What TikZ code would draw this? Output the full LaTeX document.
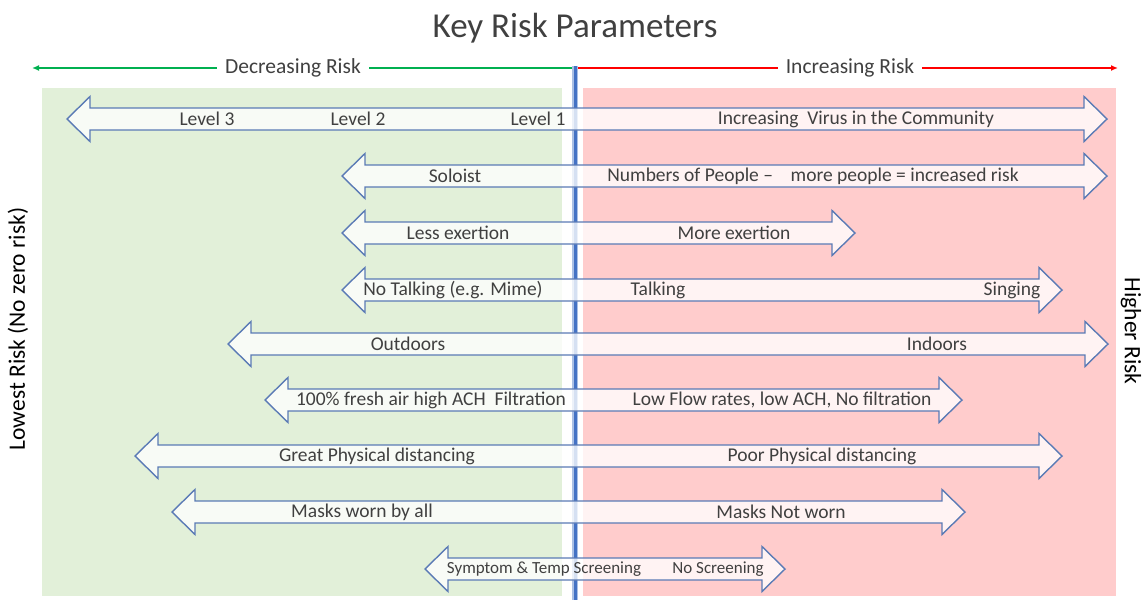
\documentclass[tikz,border=0pt]{standalone}
\usepackage{fontspec}
\setmainfont{Carlito}
\definecolor{greenbg}{HTML}{E2F0D9}
\definecolor{redbg}{HTML}{FFCCCC}
\definecolor{outl}{HTML}{5A7AB5}
\definecolor{txt}{HTML}{404040}
\definecolor{cblue}{HTML}{4472C4}
\definecolor{gline}{HTML}{00B050}
\definecolor{rline}{HTML}{FF0000}
\tikzset{
  arrowshape/.style={draw=outl, line width=1.4pt, fill=white, fill opacity=0.78, line join=miter},
  lbl/.style={text=txt, font=\fontsize{19.5}{22}\selectfont, inner sep=0pt, anchor=center},
  smlbl/.style={text=txt, font=\fontsize{17}{20}\selectfont, inner sep=0pt, anchor=center},
  toplbl/.style={text=txt, font=\fontsize{21.5}{24}\selectfont, fill=white, inner xsep=8pt, inner ysep=2pt},
  sidelbl/.style={text=black, font=\fontsize{23.5}{26}\selectfont, inner sep=0pt},
  topline/.style={line width=1.8pt, -{Latex[length=7pt,width=6pt]}},
}
\usetikzlibrary{arrows.meta}
\newcommand\riskarrow[3]{%
  \draw[arrowshape] (#1,#3) -- (#1+23,#3-22.5) -- (#1+23,#3-11) -- (#2-23,#3-11) -- (#2-23,#3-22.5) -- (#2,#3) -- (#2-23,#3+22.5) -- (#2-23,#3+11) -- (#1+23,#3+11) -- (#1+23,#3+22.5) -- cycle;}
\begin{document}
\begin{tikzpicture}[x=1pt,y=-1pt]
\useasboundingbox (0,0) rectangle (1146,600);
% backgrounds
\fill[greenbg] (42,88) rectangle (562,596);
\fill[redbg] (583,88) rectangle (1116,596);
% title
\node[text=txt, font=\fontsize{35}{40}\selectfont, inner sep=0pt] (title) at (575,28) {Key Risk Parameters};
% top direction arrows
\coordinate (c0) at (575,68);
\coordinate (lend) at (32,68);
\coordinate (rend) at (1118,68);
\draw[topline, gline] (c0) -- (lend);
\draw[topline, rline] (c0) -- (rend);
\node[toplbl] (dec) at (293,68) {Decreasing Risk};
\node[toplbl] (inc) at (850,68) {Increasing Risk};
% centre line
\coordinate (ctop) at (575,66);
\coordinate (cbot) at (575,600);
\draw[cblue!45, line width=5.5pt] (ctop) -- (cbot);
\draw[cblue, line width=3pt] (ctop) -- (cbot);
% side labels
\node[sidelbl, rotate=90] (low) at (18,329) {Lowest Risk (No zero risk)};
\node[sidelbl, rotate=-90] (high) at (1131,331) {Higher Risk};
% arrows
\riskarrow{67}{1107}{119}
\riskarrow{342}{1107}{176}
\riskarrow{342}{855}{233}
\riskarrow{342}{1062}{290}
\riskarrow{228}{1108}{344}
\riskarrow{265}{962}{400}
\riskarrow{135}{1062}{456}
\riskarrow{172}{965}{512}
\riskarrow{425}{785}{569}
% labels
\node[lbl] (l3) at (207,119) {Level 3};
\node[lbl] (l2) at (358,119) {Level 2};
\node[lbl] (l1) at (538,119) {Level 1};
\node[lbl] (vir) at (856,119) {Increasing\ \ Virus in the Community};
\node[lbl] (sol) at (455,176) {Soloist};
\node[lbl] (num) at (813,176) {Numbers of People –\ \ \ \ more people = increased risk};
\node[lbl] (lex) at (458,233) {Less exertion};
\node[lbl] (mex) at (734,233) {More exertion};
\node[lbl] (ntk) at (453,290) {No Talking (e.g. Mime)};
\node[lbl] (tk) at (658,290) {Talking};
\node[lbl] (sng) at (1012,290) {Singing};
\node[lbl] (out) at (408,344) {Outdoors};
\node[lbl] (ind) at (937,344) {Indoors};
\node[lbl] (fresh) at (431,400) {100\% fresh air high ACH\ \ Filtration};
\node[lbl] (low2) at (782,400) {Low Flow rates, low ACH, No filtration};
\node[lbl] (gpd) at (377,456) {Great Physical distancing};
\node[lbl] (ppd) at (822,456) {Poor Physical distancing};
\node[lbl] (mwa) at (362,512) {Masks worn by all};
\node[lbl] (mnw) at (781,512) {Masks Not worn};
\node[smlbl] (sym) at (544,569) {Symptom \& Temp Screening};
\node[smlbl] (nos) at (718,569) {No Screening};
\end{tikzpicture}
\end{document}
